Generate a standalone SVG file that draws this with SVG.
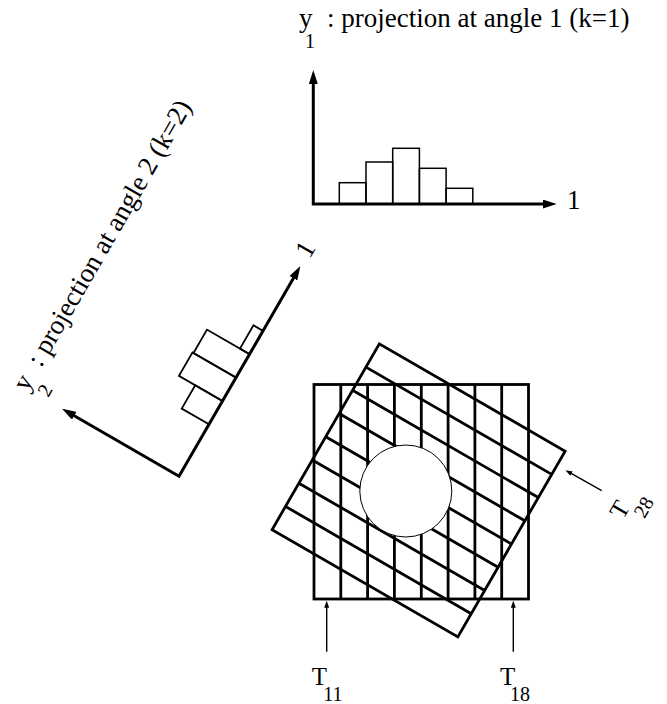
<svg xmlns="http://www.w3.org/2000/svg" width="667" height="704" viewBox="0 0 667 704">
<style>
text { font-family: "Liberation Serif", "Times New Roman", serif; fill: #000; }
.lab { font-size: 27px; }
.tl { font-size: 25px; }
.sub { font-size: 20px; }
.axis { stroke: #000; stroke-width: 3; fill: none; stroke-linejoin: miter; }
.bar { stroke: #000; stroke-width: 1.5; fill: none; }
.bar2 { stroke: #000; stroke-width: 1.8; fill: none; }
.grid { stroke: #000; stroke-width: 2.8; fill: none; }
.ray { stroke: #000; stroke-width: 1.4; fill: none; }
</style>
<defs>
<marker id="ah" markerUnits="userSpaceOnUse" markerWidth="14" markerHeight="9" viewBox="0 0 14 9" refX="3" refY="4.5" orient="auto-start-reverse"><path d="M0,0 L14,4.5 L0,9 z" fill="#000"/></marker>
<marker id="sh" markerUnits="userSpaceOnUse" markerWidth="7" markerHeight="5" viewBox="0 0 7 5" refX="1" refY="2.5" orient="auto"><path d="M0,0 L7,2.5 L0,5 z" fill="#000"/></marker>
</defs>

<!-- Projection 1 -->
<g id="label1">
<text class="lab" x="299" y="27">y</text>
<text class="sub" x="305" y="48">1</text>
<text class="lab" x="327" y="27">: projection at angle 1 (k=1)</text>
</g>
<g id="histogram1" transform="translate(313.3,204)">
<rect class="bar" x="26" y="-21.3" width="26.7" height="21.3"/>
<rect class="bar" x="52.7" y="-42" width="26.7" height="42"/>
<rect class="bar" x="79.4" y="-55.7" width="26.7" height="55.7"/>
<rect class="bar" x="106.1" y="-35.7" width="26.7" height="35.7"/>
<rect class="bar" x="132.8" y="-15.7" width="26.7" height="15.7"/>
<path class="axis" d="M0,-123 L0,0 L232.4,0" marker-start="url(#ah)" marker-end="url(#ah)"/>
<text class="lab" x="253.7" y="4.5">1</text>
</g>

<!-- Projection 2 -->
<g id="label2" transform="translate(41.7,363.3) rotate(-60) translate(-331.7,-25)">
<text class="lab" x="299" y="27">y</text>
<text class="sub" x="305" y="48">2</text>
<text class="lab" x="327" y="27">: projection at angle 2 (k=2)</text>
</g>
<g id="histogram2" transform="translate(179,476.3) rotate(-60)">
<rect class="bar2" x="60" y="-31.5" width="27" height="31.5"/>
<rect class="bar2" x="87" y="-50.3" width="27" height="50.3"/>
<rect class="bar2" x="114" y="-49.1" width="27" height="49.1"/>
<rect class="bar2" x="141" y="-11" width="27" height="11"/>
<path class="axis" d="M0,-124 L0,0 L231.7,0" marker-start="url(#ah)" marker-end="url(#ah)"/>
<text class="lab" x="253" y="4.5">1</text>
</g>

<!-- Object with scan grids -->
<g id="grid1">
<rect class="grid" x="314" y="384.5" width="214.5" height="214.5"/>
<path class="grid" d="M340.8,384.5V599 M367.6,384.5V599 M394.4,384.5V599 M421.3,384.5V599 M448.1,384.5V599 M474.9,384.5V599 M501.7,384.5V599"/>
</g>
<g id="grid2" transform="translate(418.6,490.4) rotate(-60)">
<rect class="grid" x="-107.25" y="-107.25" width="214.5" height="214.5"/>
<path class="grid" d="M-80.44,-107.25V107.25 M-53.63,-107.25V107.25 M-26.81,-107.25V107.25 M0,-107.25V107.25 M26.81,-107.25V107.25 M53.63,-107.25V107.25 M80.44,-107.25V107.25"/>
</g>
<g id="object">
<circle cx="405.8" cy="491" r="46" fill="#fff" stroke="#000" stroke-width="1"/>
</g>

<!-- Ray labels -->
<g id="connectors">
<line class="ray" x1="326.7" y1="651.7" x2="326.7" y2="606.7" marker-end="url(#sh)"/>
<line class="ray" x1="513.3" y1="651.7" x2="513.3" y2="606.7" marker-end="url(#sh)"/>
<line class="ray" x1="601.7" y1="490.7" x2="570.7" y2="473.2" marker-end="url(#sh)"/>
</g>
<g id="T11">
<text class="tl" x="311.7" y="685">T</text>
<text class="sub" x="323.3" y="701">11</text>
</g>
<g id="T18">
<text class="tl" x="500" y="685">T</text>
<text class="sub" x="510" y="701">18</text>
</g>
<g id="T28" transform="translate(601.7,490.7) rotate(-60)">
<text class="tl" x="-15" y="33.3">T</text>
<text class="sub" x="-3.4" y="51.3">28</text>
</g>
</svg>
